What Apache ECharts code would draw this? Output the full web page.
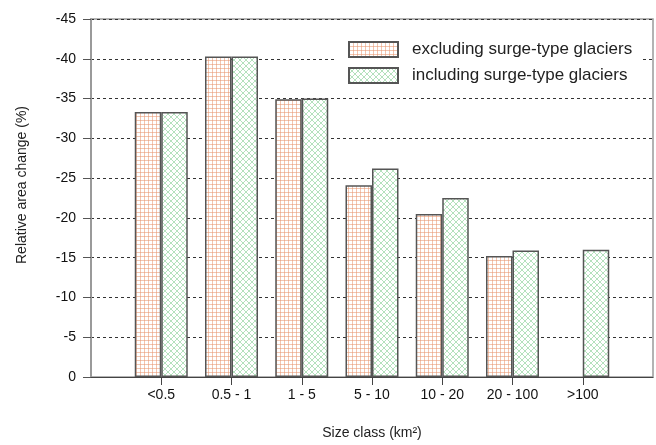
<!DOCTYPE html>
<html>
<head>
<meta charset="utf-8">
<script src="https://cdn.jsdelivr.net/npm/echarts@6/dist/echarts.min.js"></script>
<style>
  html, body { margin: 0; padding: 0; background: #fff; }
  #chart { width: 656px; height: 445px; }
</style>
</head>
<body>
<div id="chart"></div>
<script>
// Size classes of glaciers (km²)
const categories = ['<0.5', '0.5 - 1', '1 - 5', '5 - 10', '10 - 20', '20 - 100', '>100'];
// Relative area change (%) per size class
const excludingSurge = [-33.3, -40.3, -34.9, -24.1, -20.5, -15.2, null];
const includingSurge = [-33.3, -40.3, -35.0, -26.2, -22.5, -15.9, -16.0];
const yTicks = [-45, -40, -35, -30, -25, -20, -15, -10, -5, 0];

const FONT = '"Liberation Sans", Arial, sans-serif';

// Orange square-grid hatch
function gridPattern() {
  const c = document.createElement('canvas');
  c.width = 4; c.height = 4;
  const g = c.getContext('2d');
  g.fillStyle = '#ffffff';
  g.fillRect(0, 0, 4, 4);
  g.fillStyle = 'rgba(232,150,112,0.55)';
  g.fillRect(0, 0, 4, 1);
  g.fillRect(0, 0, 1, 4);
  return c;
}
// Green diagonal cross-hatch
function crossPattern() {
  const c = document.createElement('canvas');
  c.width = 6; c.height = 6;
  const g = c.getContext('2d');
  g.fillStyle = '#ffffff';
  g.fillRect(0, 0, 6, 6);
  g.strokeStyle = 'rgba(130,205,145,0.6)';
  g.lineWidth = 1;
  g.beginPath();
  g.moveTo(-1, -1); g.lineTo(7, 7);
  g.moveTo(7, -1); g.lineTo(-1, 7);
  g.stroke();
  return c;
}

// Axis has an empty slot at each end so bars sit one step in from the frame
const xData = [''].concat(categories, ['']);
const pad = arr => [null].concat(arr, [null]);

const chart = echarts.init(document.getElementById('chart'), null, { renderer: 'canvas' });
chart.setOption({
  animation: false,
  backgroundColor: '#ffffff',
  textStyle: { fontFamily: FONT },
  grid: {
    left: 91, right: 2, top: 19, bottom: 64,
    show: true, borderColor: '#9a9a9a', borderWidth: 1.5, backgroundColor: 'transparent'
  },
  legend: {
    orient: 'vertical',
    left: 335, top: 30,
    padding: [11, 10, 10, 13],
    backgroundColor: '#ffffff',
    icon: 'rect',
    itemWidth: 49, itemHeight: 15, itemGap: 9,
    textStyle: { fontSize: 17, color: '#222', fontFamily: FONT, padding: [0, 0, 0, 9] },
    data: ['excluding surge-type glaciers', 'including surge-type glaciers']
  },
  xAxis: {
    type: 'category',
    data: xData,
    boundaryGap: false,
    name: 'Size class (km²)',
    nameLocation: 'middle',
    nameGap: 49,
    nameTextStyle: { fontSize: 14, color: '#222', fontFamily: FONT },
    axisLine: { lineStyle: { color: '#444', width: 1 } },
    axisTick: {
      length: 8, lineStyle: { color: '#444' },
      interval: idx => idx > 0 && idx < xData.length - 1
    },
    axisLabel: { fontSize: 14, color: '#111', margin: 11, interval: 0, fontFamily: FONT },
    splitLine: { show: false }
  },
  yAxis: {
    type: 'value',
    min: yTicks[0], max: yTicks[yTicks.length - 1], interval: 5,
    inverse: true,
    name: 'Relative area change (%)',
    nameLocation: 'middle',
    nameGap: 62,
    nameTextStyle: { fontSize: 14, color: '#222', fontFamily: FONT, padding: [0, 0, 0, 26] },
    axisLine: { show: true, lineStyle: { color: '#9a9a9a', width: 2 } },
    axisTick: { show: true, length: 8, lineStyle: { color: '#555' } },
    axisLabel: { fontSize: 14, color: '#111', margin: 15, fontFamily: FONT },
    splitLine: {
      show: true,
      showMaxLine: false,
      lineStyle: { color: '#333', width: 1, type: [3, 3] }
    }
  },
  series: [
    {
      name: 'excluding surge-type glaciers',
      type: 'bar',
      data: pad(excludingSurge),
      barWidth: 26.5,
      barGap: '0%',
      itemStyle: {
        color: { image: gridPattern(), repeat: 'repeat' },
        borderColor: '#555', borderWidth: 1.5
      }
    },
    {
      name: 'including surge-type glaciers',
      type: 'bar',
      data: pad(includingSurge),
      barWidth: 26.5,
      barGap: '0%',
      itemStyle: {
        color: { image: crossPattern(), repeat: 'repeat' },
        borderColor: '#555', borderWidth: 1.5
      }
    }
  ]
});
</script>
</body>
</html>
